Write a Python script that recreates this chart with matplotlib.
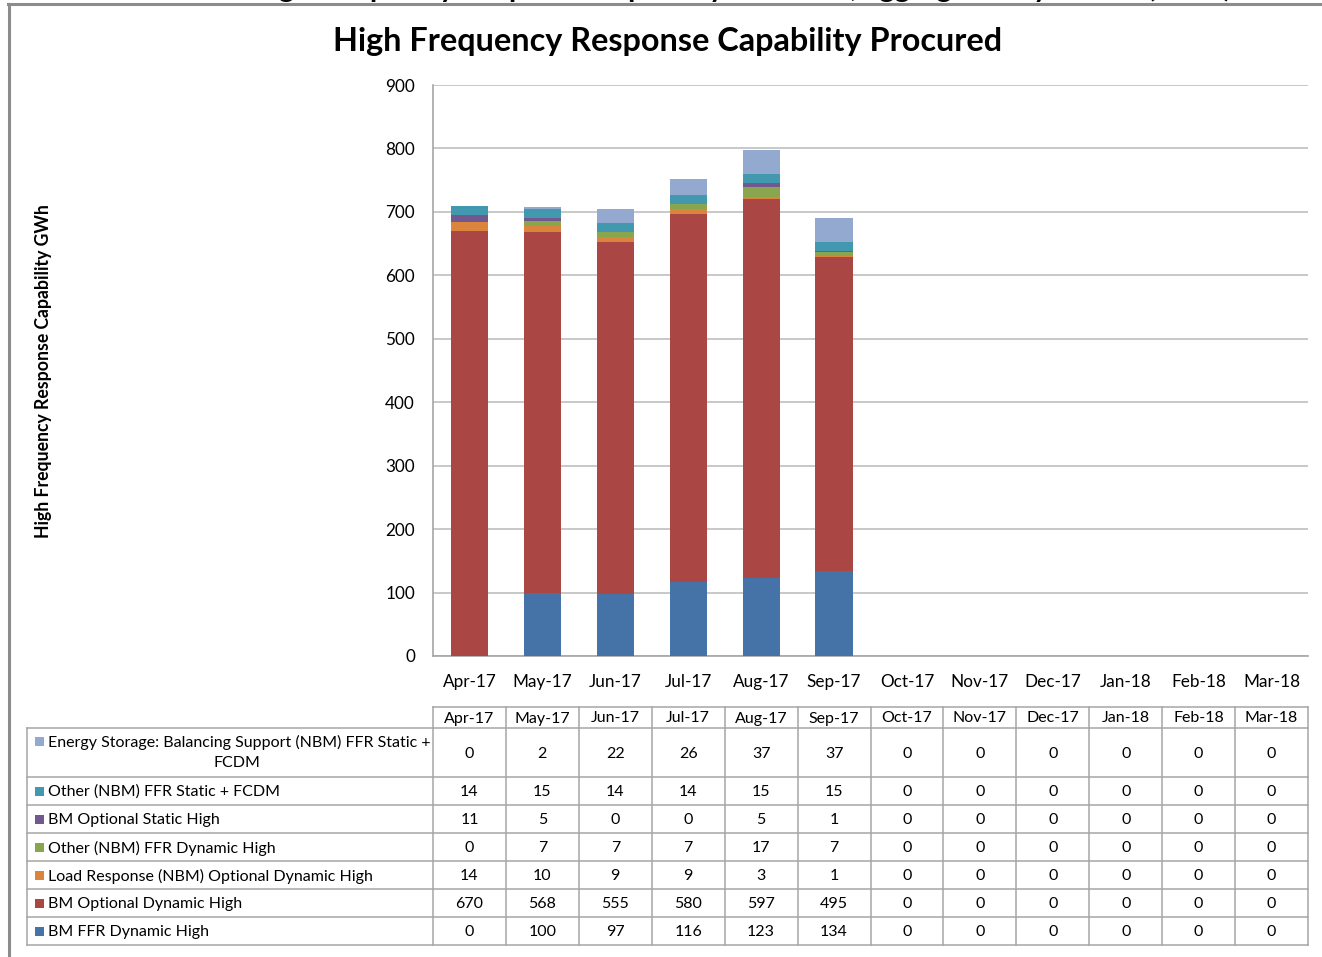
import numpy as np
import matplotlib.pyplot as plt
from matplotlib.patches import Rectangle

plt.rcParams['font.family'] = ['Lato', 'DejaVu Sans']

months = ['Apr-17', 'May-17', 'Jun-17', 'Jul-17', 'Aug-17', 'Sep-17',
          'Oct-17', 'Nov-17', 'Dec-17', 'Jan-18', 'Feb-18', 'Mar-18']

# stacking order, bottom to top
ffr_dynamic = [0, 100, 97, 116, 123, 134, 0, 0, 0, 0, 0, 0]
bm_opt_dynamic = [670, 568, 555, 580, 597, 495, 0, 0, 0, 0, 0, 0]
load_response = [14, 10, 9, 9, 3, 1, 0, 0, 0, 0, 0, 0]
other_dynamic = [0, 7, 7, 7, 17, 7, 0, 0, 0, 0, 0, 0]
bm_opt_static = [11, 5, 0, 0, 5, 1, 0, 0, 0, 0, 0, 0]
other_static = [14, 15, 14, 14, 15, 15, 0, 0, 0, 0, 0, 0]
energy_storage = [0, 2, 22, 26, 37, 37, 0, 0, 0, 0, 0, 0]

series = [
    ('BM FFR Dynamic High', ffr_dynamic, '#4572A7'),
    ('BM Optional Dynamic High', bm_opt_dynamic, '#AA4643'),
    ('Load Response (NBM) Optional Dynamic High', load_response, '#DB843D'),
    ('Other (NBM) FFR Dynamic High', other_dynamic, '#89A54E'),
    ('BM Optional Static High', bm_opt_static, '#71588F'),
    ('Other (NBM) FFR Static + FCDM', other_static, '#4198AF'),
    ('Energy Storage: Balancing Support (NBM) FFR Static +\nFCDM', energy_storage, '#93A9CF'),
]

W, H = 1322, 957
fig = plt.figure(figsize=(W / 100, H / 100), dpi=100)


def fx(px):
    return px / W


def fy(py):
    return 1 - py / H


grid_c = '#BFBFBF'
line_c = '#A6A6A6'

# chart area
ax = fig.add_axes([fx(433), fy(656), fx(1308) - fx(433), fy(85) - fy(656)])
x = np.arange(len(months))
bottom = np.zeros(len(months))
for name, vals, col in series:
    ax.bar(x, vals, width=0.51, bottom=bottom, color=col, zorder=3)
    bottom += np.array(vals)

ax.set_xlim(-0.5, len(months) - 0.5)
ax.set_ylim(0, 900)
ax.set_yticks(range(0, 901, 100))
ax.set_xticks(x)
ax.set_xticklabels(months)
ax.yaxis.grid(True, color=grid_c, lw=1.2, zorder=0)
for s in ['top', 'right']:
    ax.spines[s].set_visible(False)
for s in ['left', 'bottom']:
    ax.spines[s].set_color(line_c)
    ax.spines[s].set_linewidth(1.2)
ax.tick_params(axis='both', length=0, labelsize=12.3, colors='black')
ax.tick_params(axis='y', pad=13)
ax.tick_params(axis='x', pad=13)

fig.text(fx(668), fy(42), 'High Frequency Response Capability Procured',
         ha='center', va='center', fontsize=23.3, fontweight='bold')
fig.text(fx(44), fy(371), 'High Frequency Response Capability GWh',
         ha='center', va='center', rotation=90, fontsize=12.7, fontweight='bold')

# heading of the page above, cut by the top edge
fig.text(fx(740), fy(-3.5), 'High Frequency Response Capability Procured, aggregated by month (GWh)',
         ha='center', va='baseline', fontsize=21, fontweight='bold')

# outer frame
ov = fig.add_axes([0, 0, 1, 1], zorder=-1)
ov.set_xlim(0, W)
ov.set_ylim(H, 0)
ov.axis('off')
ov.plot([8, W], [3.5, 3.5], color='#8C8C8C', lw=2.2)
ov.plot([8.5, 8.5], [3.5, H], color='#8C8C8C', lw=2.2)

# data table
tb = fig.add_axes([0, 0, 1, 1], zorder=2)
tb.set_xlim(0, W)
tb.set_ylim(H, 0)
tb.axis('off')
tc = '#A6A6A6'
col_x = np.linspace(433, 1308, len(months) + 1)
row_y = [728, 777, 805, 833, 861, 889, 917, 945]
head_top = 707
tlw = 1.1
fs = 11.5

tb.plot([433, 1308], [head_top, head_top], color=tc, lw=tlw)
for yy in row_y:
    tb.plot([27, 1308], [yy, yy], color=tc, lw=tlw)
for xx in col_x:
    tb.plot([xx, xx], [head_top, row_y[-1]], color=tc, lw=tlw)
tb.plot([27, 27], [row_y[0], row_y[-1]], color=tc, lw=tlw)

for i, m in enumerate(months):
    tb.text((col_x[i] + col_x[i + 1]) / 2, (head_top + row_y[0]) / 2 + 1, m,
            ha='center', va='center', fontsize=fs)

for r, (name, vals, col) in enumerate(reversed(series)):
    y0, y1 = row_y[r], row_y[r + 1]
    yc = (y0 + y1) / 2 + 1
    if '\n' in name:
        first, second = name.split('\n')
        tb.add_patch(Rectangle((35, 737), 9, 9, color=col, lw=0))
        tb.text(48, 742, first, ha='left', va='center', fontsize=fs)
        tb.text(237, 763, second, ha='center', va='center', fontsize=fs)
    else:
        tb.add_patch(Rectangle((35, yc - 5.5), 9, 9, color=col, lw=0))
        tb.text(48, yc, name, ha='left', va='center', fontsize=fs)
    for i, v in enumerate(vals):
        tb.text((col_x[i] + col_x[i + 1]) / 2, yc, str(v),
                ha='center', va='center', fontsize=fs)

fig.savefig('out.png', dpi=100)
